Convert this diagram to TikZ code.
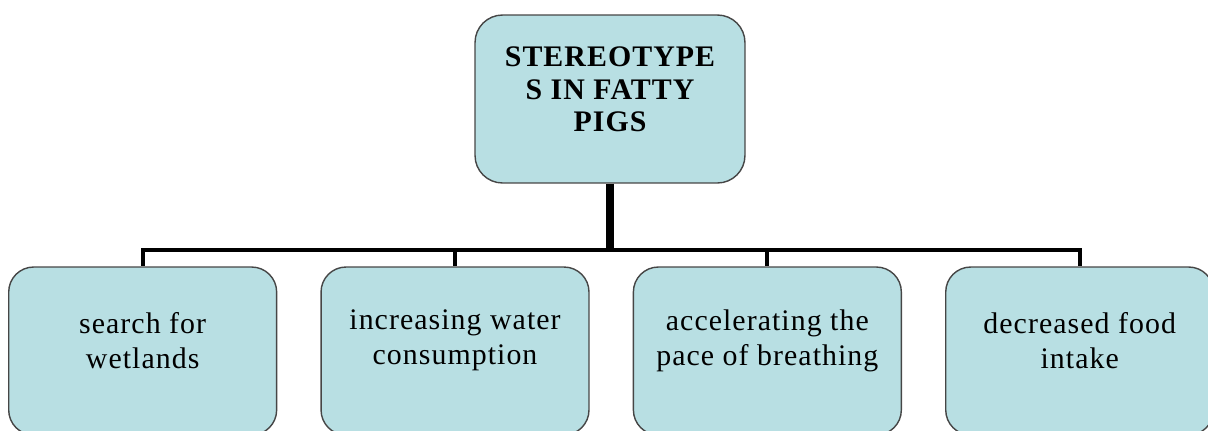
\documentclass[tikz,border=0pt]{standalone}
\usepackage{fontspec}
\setmainfont{Liberation Serif}[LetterSpace=3.5]
\usetikzlibrary{positioning}

\definecolor{boxfill}{RGB}{184,223,227}
\definecolor{boxline}{RGB}{70,70,70}

\tikzset{
  rootbox/.style={draw=boxline,fill=boxfill,line width=0.8pt,rounded corners=0.55cm,
    minimum width=5.4cm,minimum height=3.36cm},
  leafbox/.style={draw=boxline,fill=boxfill,line width=0.8pt,rounded corners=0.5cm,
    minimum width=5.36cm,minimum height=3.36cm,anchor=west},
  roottext/.style={align=center,font=\fontsize{17}{18.5}\selectfont\bfseries},
  leaftext/.style={align=center,font=\fontsize{17}{20}\selectfont},
  link/.style={line width=2.4pt}
}

\begin{document}
\begin{tikzpicture}[x=0.02cm,y=-0.02cm]
\useasboundingbox (0,0) rectangle (1208,430);
\clip (0,0) rectangle (1208,430);

% root
\node[rootbox] (root) at (610,99) {};
\node[roottext] (rt) at ([yshift=0.19cm]root.center) {STEREOTYPE\\S IN FATTY\\PIGS};

% leaves
\node[leafbox] (b1) at (8,351) {};
\node[leafbox] (b2) at ([xshift=0.86cm]b1.east) {};
\node[leafbox] (b3) at ([xshift=0.86cm]b2.east) {};
\node[leafbox] (b4) at ([xshift=0.86cm]b3.east) {};

\node[leaftext] (t1) at ([yshift=0.21cm]b1.center) {search for\\wetlands};
\node[leaftext] (t2) at ([yshift=0.21cm]b2.center) {increasing water\\consumption};
\node[leaftext] (t3) at ([yshift=0.21cm]b3.center) {accelerating the\\pace of breathing};
\node[leaftext] (t4) at ([yshift=0.21cm]b4.center) {decreased food\\intake};

% connectors
\coordinate (bar) at (610,250);
\draw[link,line width=4.2pt] (root.south) -- (bar);
\draw[link,line cap=rect] (b1.north |- bar) -- (b4.north |- bar);
\draw[link] (b1.north |- bar) -- (b1.north);
\draw[link] (b2.north |- bar) -- (b2.north);
\draw[link] (b3.north |- bar) -- (b3.north);
\draw[link] (b4.north |- bar) -- (b4.north);

\end{tikzpicture}
\end{document}
